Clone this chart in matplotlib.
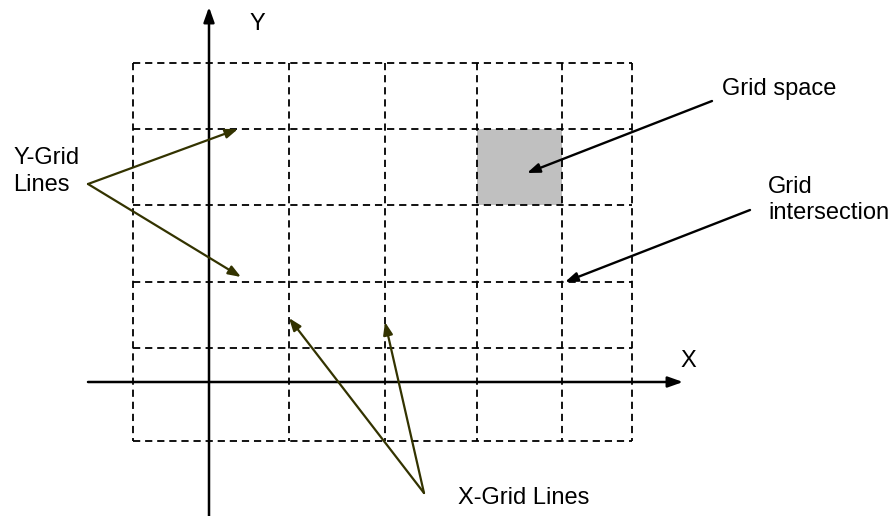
import matplotlib.pyplot as plt
from matplotlib.patches import Rectangle

plt.rcParams['font.family'] = ['Liberation Sans', 'DejaVu Sans']

# diagram drawn in pixel coordinates of the 891x516 picture (y grows downwards)
W, H = 891, 516

grid_x = [133, 289, 385, 477, 562, 632]
grid_y = [63, 129, 205, 282, 348, 441]

# shaded grid space (x0, y0, x1, y1)
space = (477, 129, 562, 205)

# axes: (start, tip)
x_axis = ((88, 382), (683, 382))
y_axis = ((209, 516), (209, 7))

# pointer arrows: (start, tip)
olive_arrows = [((88, 184), (238, 129)),
                ((88, 184), (241, 277)),
                ((424, 493), (289, 318)),
                ((424, 493), (385, 322))]
black_arrows = [((712, 101), (527, 173)),
                ((750, 210), (565, 282))]

# labels: (text, left, baseline)
labels = [('Y', 249, 30),
          ('X', 680, 367),
          ('Y-Grid', 13, 164),
          ('Lines', 13, 191),
          ('Grid space', 722, 95),
          ('Grid', 768, 193),
          ('intersection', 768, 219),
          ('X-Grid Lines', 458, 504)]

fig = plt.figure(figsize=(W / 100, H / 100), dpi=100)
ax = fig.add_axes([0, 0, 1, 1])
ax.set_xlim(0, W)
ax.set_ylim(H, 0)
ax.axis('off')

ax.add_patch(Rectangle((space[0], space[1]), space[2] - space[0], space[3] - space[1],
                       facecolor='#c0c0c0', edgecolor='none', zorder=1))

dash = (0, (4.0, 2.7))
for gx in grid_x:
    ax.plot([gx, gx], [grid_y[0], grid_y[-1]], color='black', lw=1.3, linestyle=dash, zorder=2)
for gy in grid_y:
    ax.plot([grid_x[0], grid_x[-1]], [gy, gy], color='black', lw=1.3, linestyle=dash, zorder=2)

for start, tip in (x_axis, y_axis):
    ax.annotate('', xy=tip, xytext=start,
                arrowprops=dict(arrowstyle='-|>,head_length=0.9,head_width=0.32',
                                mutation_scale=10, lw=1.8, color='black',
                                shrinkA=0, shrinkB=0), zorder=3)

for start, tip in olive_arrows:
    ax.annotate('', xy=tip, xytext=start,
                arrowprops=dict(arrowstyle='-|>,head_length=0.75,head_width=0.28',
                                mutation_scale=10, lw=1.6, color='#333300',
                                shrinkA=0, shrinkB=0), zorder=4)

for start, tip in black_arrows:
    ax.annotate('', xy=tip, xytext=start,
                arrowprops=dict(arrowstyle='-|>,head_length=0.75,head_width=0.28',
                                mutation_scale=10, lw=1.7, color='black',
                                shrinkA=0, shrinkB=0), zorder=4)

for txt, lx, by in labels:
    ax.text(lx, by, txt, fontsize=17, ha='left', va='baseline', color='black')

fig.savefig('out.png', dpi=100)
